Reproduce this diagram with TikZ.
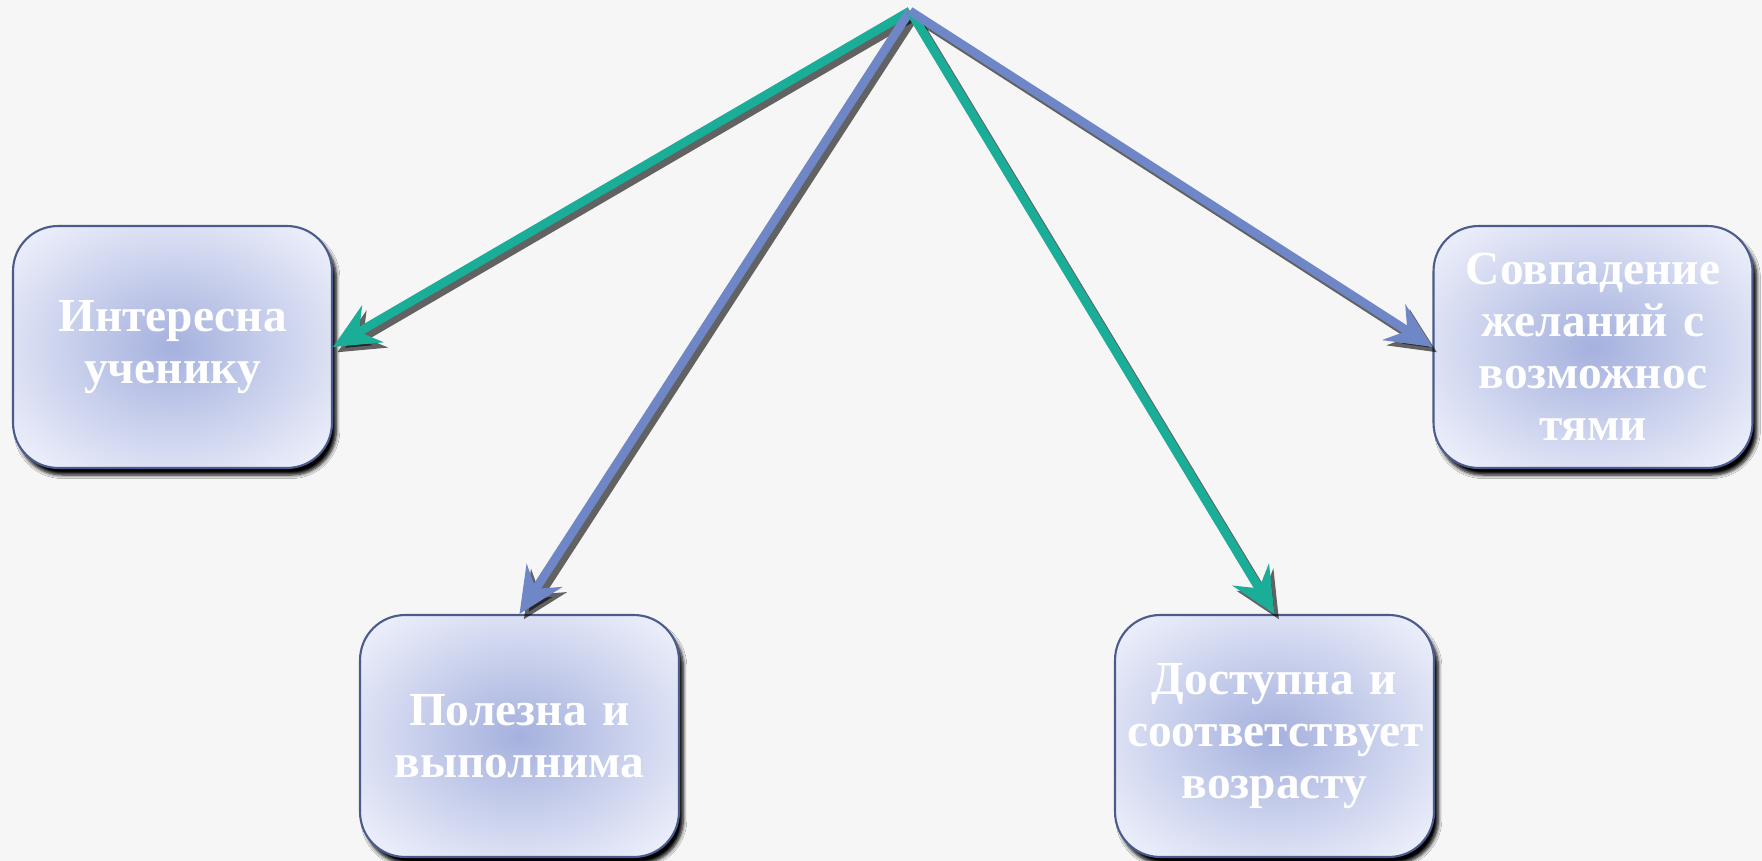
\documentclass[tikz,border=0pt]{standalone}
\usepackage{fontspec}
\setmainfont{Liberation Serif}
\usetikzlibrary{arrows.meta,shadows.blur}

\definecolor{bgray}{HTML}{F6F6F6}
\definecolor{tealarr}{HTML}{1AAE98}
\definecolor{bluearr}{HTML}{6F87C7}
\definecolor{boxin}{HTML}{A5B1DE}
\definecolor{boxout}{HTML}{E9ECF9}
\definecolor{boxline}{HTML}{4B5B8C}

\pgfdeclareradialshading{boxshade}{\pgfpoint{0bp}{0bp}}{%
  color(0bp)=(boxin); color(31bp)=(boxout); color(50bp)=(boxout)}

\tikzset{
  goalbox/.style={draw=boxline, line width=1.2pt, rounded corners=0.9cm,
    shading=boxshade,
    minimum width=6.38cm, minimum height=4.84cm,
    text width=5.9cm, align=center, text=white,
    font=\fontsize{27}{29.5}\selectfont\bfseries,
    blur shadow={shadow xshift=2.5pt, shadow yshift=-4pt, shadow opacity=100,
      shadow blur radius=2pt, shadow blur steps=6}},
  arr/.style={line width=5pt, -{Stealth[length=26pt, width=24pt, inset=9pt]}},
  arrshadow/.style={arr, black, opacity=0.6, transform canvas={shift={(2.5pt,-3pt)}}}
}

\begin{document}
\begin{tikzpicture}[x=0.02cm, y=-0.02cm]
  \fill[bgray] (0,0) rectangle (1762,861);
  \useasboundingbox (0,0) rectangle (1762,861);

  \coordinate (top) at (910,11);

  \node[goalbox] (int) at (172.5,347) {Интересна\\ученику};
  \node[goalbox] (pol) at (519.5,736) {Полезна и\\выполнима};
  \node[goalbox] (dost) at (1274.5,736) {Доступна и\\соответствует\\возрасту};
  \node[goalbox] (sov) at (1593,347) {Совпадение\\желаний с\\возможнос\\тями};

  % shadows of the arrows
  \draw[arrshadow] (top) -- (int.east);
  \draw[arrshadow] (top) -- (pol.north);
  \draw[arrshadow] (top) -- (dost.north);
  \draw[arrshadow] (top) -- (sov.west);

  \draw[arr, tealarr] (top) -- (int.east);
  \draw[arr, bluearr] (top) -- (pol.north);
  \draw[arr, tealarr] (top) -- (dost.north);
  \draw[arr, bluearr] (top) -- (sov.west);
\end{tikzpicture}
\end{document}
